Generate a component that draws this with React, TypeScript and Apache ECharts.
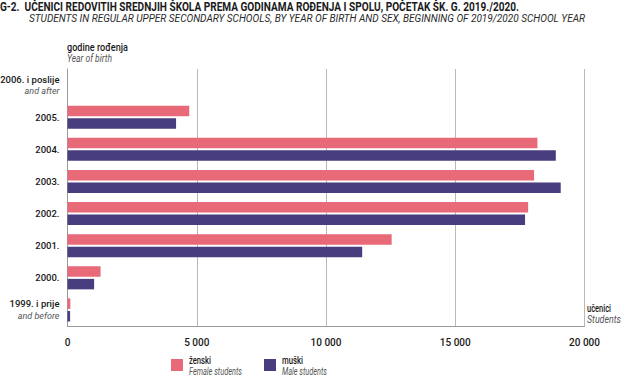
import React, { useEffect, useRef } from "react";
import * as echarts from "echarts";

const categories = ["2006. i poslije", "2005.", "2004.", "2003.", "2002.", "2001.", "2000.", "1999. i prije"];
const categorySubtitles = ["and after", "", "", "", "", "", "", "and before"];
const femaleValues = [0, 4710, 18180, 18050, 17820, 12540, 1280, 110];
const maleValues = [0, 4200, 18890, 19080, 17700, 11400, 1030, 100];
const xTicks = { min: 0, max: 20000, interval: 5000 };
const seriesNames = ["ženski", "muški"];
const seriesSubNames = ["Female students", "Male students"];

const titleText = "G-2.  UČENICI REDOVITIH SREDNJIH ŠKOLA PREMA GODINAMA ROĐENJA I SPOLU, POČETAK ŠK. G. 2019./2020.";
const subtitleText = "STUDENTS IN REGULAR UPPER SECONDARY SCHOOLS, BY YEAR OF BIRTH AND SEX, BEGINNING OF 2019/2020 SCHOOL YEAR";

const FONT = "'Liberation Sans Narrow', 'Roboto', 'Liberation Sans', sans-serif";
const PINK = "#e86a78";
const PURPLE = "#473d7f";

function measure(text: string, font: string): number {
  const ctx = document.createElement("canvas").getContext("2d");
  if (!ctx) return 1;
  ctx.font = font;
  return ctx.measureText(text).width || 1;
}

function fitText(text: string, font: string, x: number, y: number, width: number, fill: string) {
  const s = Math.min(1.2, width / measure(text, font));
  return {
    type: "group",
    x,
    y,
    children: [
      {
        type: "text",
        x: 0,
        y: 0,
        scaleX: s,
        style: { text, font, fill, align: "left", verticalAlign: "top" },
      },
    ],
  };
}

export default function App() {
  const ref = useRef<HTMLDivElement>(null);
  useEffect(() => {
    if (!ref.current) return;
    const chart = echarts.init(ref.current, undefined, { renderer: "svg" });
    const titleFont = `bold 12px ${FONT}`;
    const subFont = `italic 11px ${FONT}`;
    const labFont = `500 11.5px ${FONT}`;
    const itFont = `italic 11px ${FONT}`;

    const legendGraphic = (i: number, left: number, color: string, w1: number, w2: number) => ({
      type: "group",
      x: left,
      y: 353.5,
      children: [
        { type: "rect", shape: { x: 0, y: 5.5, width: 12, height: 12 }, style: { fill: color } },
        fitText(seriesNames[i], labFont, 18, 0, w1, "#1a1a1a"),
        fitText(seriesSubNames[i], itFont, 18, 11.5, w2, "#555"),
      ],
    });

    chart.setOption({
      animation: false,
      backgroundColor: "#ffffff",
      grid: { left: 67.5, right: 38.5, top: 69, bottom: 51, containLabel: false, outerBoundsMode: "none" },
      xAxis: {
        type: "value",
        min: xTicks.min,
        max: xTicks.max,
        interval: xTicks.interval,
        axisLine: { show: true, lineStyle: { color: "#9a9a9a", width: 1 } },
        axisTick: { show: false },
        splitLine: { show: true, lineStyle: { color: "#b8b8b8", width: 1 } },
        axisLabel: {
          margin: 11,
          fontFamily: FONT,
          fontSize: 10,
          fontWeight: 500,
          color: "#1a1a1a",
          formatter: (v: number) => String(v).replace(/\B(?=(\d{3})+(?!\d))/g, " "),
        },
      },
      yAxis: {
        type: "category",
        inverse: true,
        data: categories,
        axisLine: { show: true, lineStyle: { color: "#9a9a9a", width: 1 } },
        axisTick: { show: false },
        axisLabel: {
          margin: 8,
          align: "right",
          formatter: (v: string, i: number) =>
            categorySubtitles[i] ? `{b|${v}}\n{i|${categorySubtitles[i]}}` : `{b|${v}}`,
          rich: {
            b: { fontFamily: FONT, fontSize: 9.5, fontWeight: 500, color: "#1a1a1a", lineHeight: 12, align: "right" },
            i: { fontFamily: FONT, fontSize: 9, fontStyle: "italic", color: "#555", lineHeight: 12, align: "right" },
          },
        },
      },
      series: [
        {
          name: seriesNames[0],
          type: "bar",
          data: femaleValues,
          barWidth: 10.5,
          barGap: "20%",
          itemStyle: { color: PINK },
        },
        {
          name: seriesNames[1],
          type: "bar",
          data: maleValues,
          barWidth: 10.5,
          barGap: "20%",
          itemStyle: { color: PURPLE },
        },
      ],
      graphic: [
        fitText(titleText, titleFont, 0, 1.5, 519, "#1a1a1a"),
        fitText(subtitleText, subFont, 29, 13, 557, "#2a2a2a"),
        fitText("godine rođenja", labFont, 67, 41, 61, "#1a1a1a"),
        fitText("Year of birth", itFont, 67, 53, 45, "#555"),
        fitText("učenici", labFont, 587, 301.5, 24, "#1a1a1a"),
        fitText("Students", itFont, 587, 313.5, 34, "#555"),
        legendGraphic(0, 171, PINK, 22, 53),
        legendGraphic(1, 264, PURPLE, 21, 45),
      ],
    });
    return () => chart.dispose();
  }, []);
  return (
    <div style={{ position: "fixed", left: 0, top: 0, width: 623, height: 377 }}>
      <div ref={ref} style={{ width: 623, height: 377 }} />
    </div>
  );
}
